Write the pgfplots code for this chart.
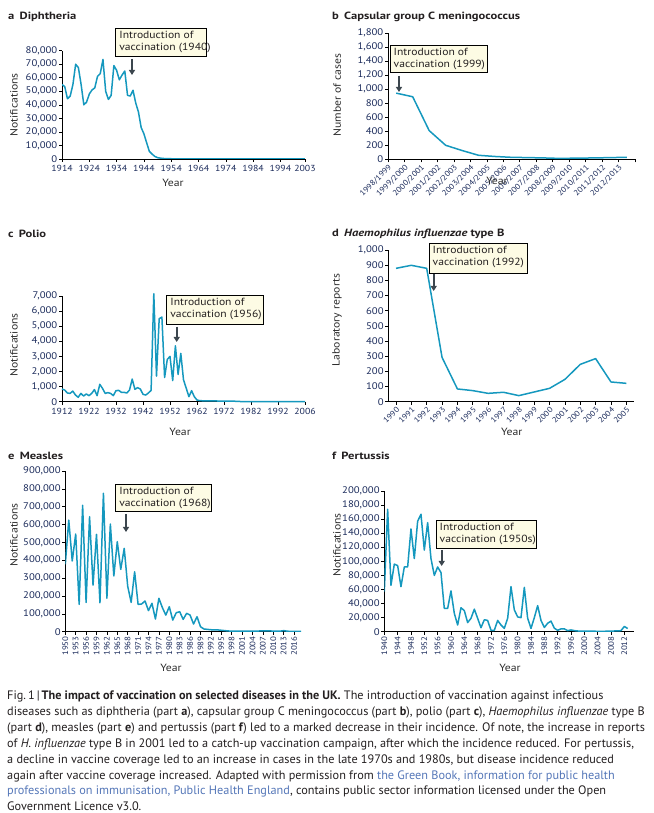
\documentclass[border=0pt]{standalone}
\usepackage{pgfplots}
\pgfplotsset{compat=1.18}
\usetikzlibrary{arrows.meta}
\usepackage{fontspec}
\setmainfont{PT Sans}
\newfontfamily\titlefont[FakeStretch=1.2]{PT Sans}
\newfontfamily\wfont[FakeStretch=1.12]{PT Sans}

\definecolor{curve}{HTML}{1598BE}
\definecolor{ticknavy}{HTML}{1B2B5B}
\definecolor{labeldark}{HTML}{2B2B2B}
\definecolor{boxfill}{HTML}{FDFBE4}
\definecolor{arrowgrey}{HTML}{3C464E}
\definecolor{linkblue}{HTML}{5577B8}
\definecolor{textdark}{HTML}{231F20}

\pgfplotsset{
  panel/.style={
    scale only axis,
    axis lines=left,
    axis line style={-, black, line width=0.6bp},
    tick align=outside,
    major tick length=3bp,
    tick style={black, line width=0.6bp},
    enlargelimits=false,
    scaled y ticks=false,
    scaled x ticks=false,
    /pgf/number format/fixed,
    /pgf/number format/assume math mode=true,
    /pgf/number format/1000 sep={,},
    yticklabel style={font=\wfont\fontsize{9.6}{11}\selectfont, text=ticknavy,
      inner sep=1.5pt},
    xticklabel style={font=\wfont\fontsize{8.8}{10}\selectfont, text=ticknavy,
      /pgf/number format/1000 sep={}},
    label style={font=\wfont\fontsize{10.5}{12}\selectfont, text=labeldark},
    ylabel style={anchor=center},
    xlabel style={anchor=center},
    every axis plot post/.append style={curve, line width=1.5bp, line join=round},
    no markers,
  },
  rot45/.style={xticklabel style={font=\wfont\fontsize{7.8}{9}\selectfont,
      rotate=45, anchor=north east, inner sep=1pt}},
  rot90/.style={xticklabel style={font=\wfont\fontsize{8}{9}\selectfont,
      rotate=90, anchor=east, inner sep=1.5pt}},
}

% annotation box: x1 y1 x2 y2 (pixel, top-left origin), text
\newcommand\annotbox[5]{%
  \draw[fill=boxfill, draw=black, line width=0.6bp] (#1,813-#2) rectangle (#3,813-#4);
  \node[anchor=north west, inner sep=0pt, align=left, text=textdark,
    font=\wfont\fontsize{10.4}{12.6}\selectfont] at (#1+3.5,813-#2-2.5) {#5};}
\newcommand\annotarrow[3]{%
  \draw[arrowgrey, line width=1.8bp, -{Triangle[length=5bp,width=6bp]}]
    (#1,813-#2) -- (#1,813-#3);}
\newcommand\paneltitle[3]{%
  \node[anchor=base west, inner sep=0pt, text=textdark,
    font=\titlefont\fontsize{10.5}{12}\selectfont\bfseries] at (#1,813-#2) {#3};}

\begin{document}
\begin{tikzpicture}[x=1bp,y=1bp]
\useasboundingbox (0,0) rectangle (654,813);

% ---------- a Diphtheria
\begin{axis}[panel, at={(62bp,654bp)}, anchor=south west,
  width=243bp, height=108.3bp,
  xmin=1914, xmax=2003, ymin=0, ymax=80000,
  xtick={1914,1924,1934,1944,1954,1964,1974,1984,1994,2003},
  ytick={0,10000,...,80000},
  ylabel={Notifications}, xlabel={Year},
  ylabel style={at={(axis description cs:-0.198,0.5)}},
  xlabel style={at={(axis description cs:0.457,-0.222)}},
]
\addplot coordinates {(1914,55000)(1915,53500)(1916,44500)(1917,46500)(1918,55000)
 (1919,70000)(1920,67500)(1921,55000)(1922,40000)(1923,42000)(1924,48000)(1925,51000)
 (1926,52500)(1927,61000)(1928,63000)(1929,73500)(1930,50000)(1931,44000)(1932,47000)
 (1933,69000)(1934,65500)(1935,58500)(1936,62000)(1937,65000)(1938,47000)(1939,46500)
 (1940,50800)(1941,41400)(1942,34700)(1943,23200)(1944,18600)(1945,12000)(1946,5600)
 (1947,3600)(1948,1900)(1949,960)(1950,660)(1951,380)(1952,300)(1953,200)(1955,150)
 (1960,60)(1970,30)(1985,20)(2003,20)};
\end{axis}

% ---------- b Meningococcus C
\begin{axis}[panel, rot45, at={(388bp,653.7bp)}, anchor=south west,
  width=247bp, height=126bp,
  xmin=0, xmax=15, ymin=0, ymax=1800,
  xtick={0,...,15},
  xticklabels={1998/1999,1999/2000,2000/2001,2001/2002,2002/2003,2003/2004,
    2004/2005,2005/2006,2006/2007,2007/2008,2008/2009,2009/2010,2010/2011,
    2011/2012,2012/2013,{}},
  ytick={0,200,...,1800},
  ylabel={Number of cases}, xlabel={Year},
  ylabel style={at={(axis description cs:-0.206,0.51)}},
  xlabel style={at={(axis description cs:0.441,-0.172)}},
]
\addplot coordinates {(0.5,945)(1.5,893)(2.5,410)(3.5,200)(4.5,125)(5.5,57)(6.5,40)
 (7.5,28)(8.5,24)(9.5,19)(10.5,12)(11.5,17)(12.5,19)(13.5,24)(14.5,28)};
\end{axis}

% ---------- c Polio
\begin{axis}[panel, at={(62bp,411.3bp)}, anchor=south west,
  width=243bp, height=105.7bp, clip=false,
  xmin=1912, xmax=2002, ymin=0, ymax=7000,
  xtick={1912,1922,1932,1942,1952,1962,1972,1982,1992,2002},
  xticklabels={1912,1922,1932,1942,1952,1962,1972,1982,1992,2006},
  ytick={0,1000,...,7000},
  ylabel={Notifications}, xlabel={Year},
  ylabel style={at={(axis description cs:-0.198,0.536)}},
  xlabel style={at={(axis description cs:0.486,-0.287)}},
]
\addplot coordinates {(1912,840)(1913,770)(1914,575)(1915,550)(1916,700)(1917,440)
 (1918,290)(1919,550)(1920,375)(1921,510)(1922,400)(1923,550)(1924,800)(1925,400)
 (1926,1150)(1927,880)(1928,550)(1929,600)(1930,550)(1931,400)(1932,730)(1933,750)
 (1934,620)(1935,620)(1936,575)(1937,770)(1938,1500)(1939,820)(1940,930)(1941,840)
 (1942,490)(1943,440)(1944,575)(1945,750)(1946,7150)(1947,1700)(1948,5500)(1949,5600)
 (1950,1600)(1951,2800)(1952,3000)(1953,1400)(1954,3700)(1955,1800)(1956,3200)
 (1957,1450)(1958,900)(1959,330)(1960,730)(1961,330)(1962,110)(1963,70)(1964,60)
 (1966,50)(1970,45)(1975,45)(1976,30)(1978,12)(2002,10)};
\end{axis}

% ---------- d Haemophilus influenzae type B
\begin{axis}[panel, rot45, at={(388.3bp,411.3bp)}, anchor=south west,
  width=245.7bp, height=151.7bp,
  xmin=1989.5, xmax=2005.5, ymin=0, ymax=1000,
  xtick={1990,...,2005},
  ytick={0,100,...,1000},
  ylabel={Laboratory reports}, xlabel={Year},
  ylabel style={at={(axis description cs:-0.209,0.539)}},
  xlabel style={at={(axis description cs:0.502,-0.2)}},
]
\addplot coordinates {(1990,879)(1991,899)(1992,879)(1993,292)(1994,84)(1995,73)
 (1996,55)(1997,62)(1998,40)(1999,64)(2000,88)(2001,147)(2002,246)(2003,284)
 (2004,130)(2005,121)};
\end{axis}

% ---------- e Measles
\begin{axis}[panel, rot90, at={(65.3bp,181.3bp)}, anchor=south west,
  width=235.7bp, height=160.7bp,
  xmin=1950, xmax=2018, ymin=0, ymax=900000,
  xtick={1950,1953,...,2016},
  ytick={0,100000,...,900000},
  ylabel={Notifications}, xlabel={Year},
  ylabel style={at={(axis description cs:-0.218,0.602)}},
  xlabel style={at={(axis description cs:0.448,-0.226)}},
]
\addplot coordinates {(1950,377000)(1951,625000)(1952,396000)(1953,547000)
 (1954,153000)(1955,708000)(1956,164000)(1957,644000)(1958,261000)(1959,545000)
 (1960,162000)(1961,775000)(1962,187000)(1963,603000)(1964,312000)(1965,504000)
 (1966,349000)(1967,467000)(1968,255000)(1969,164000)(1970,336000)(1971,153000)
 (1972,155000)(1973,172000)(1974,118000)(1975,159000)(1976,71000)(1977,187000)
 (1978,135000)(1979,93000)(1980,140000)(1981,65000)(1982,106000)(1983,112000)
 (1984,69000)(1985,103000)(1986,93000)(1987,43000)(1988,84000)(1989,28000)
 (1990,15000)(1991,13000)(1992,11000)(1993,10000)(1994,10000)(1995,8000)(1996,6000)
 (1997,4000)(1998,3500)(1999,2500)(2000,2500)(2001,2500)(2002,3000)(2003,2500)
 (2004,2500)(2005,2500)(2006,4000)(2007,4000)(2008,5000)(2009,5000)(2010,2500)
 (2011,2500)(2012,3000)(2013,6000)(2014,3000)(2015,1500)(2016,2000)(2018,2000)};
\end{axis}

% ---------- f Pertussis
\begin{axis}[panel, rot90, at={(384.3bp,181.3bp)}, anchor=south west,
  width=249.7bp, height=140.7bp,
  xmin=1940, xmax=2014.9, ymin=0, ymax=200000,
  xtick={1940,1944,...,2012},
  ytick={0,20000,...,200000},
  ylabel={Notifications}, xlabel={Year},
  ylabel style={at={(axis description cs:-0.19,0.616)}},
  xlabel style={at={(axis description cs:0.503,-0.258)}},
]
\addplot coordinates {(1940,57000)(1941,174000)(1942,66000)(1943,96000)(1944,94000)
 (1945,64000)(1946,92000)(1947,92000)(1948,146000)(1949,104000)(1950,157000)
 (1951,167000)(1952,116000)(1953,155000)(1954,104000)(1955,80000)(1956,92000)
 (1957,84000)(1958,33000)(1959,33000)(1960,58000)(1961,26000)(1962,9500)(1963,34000)
 (1964,30000)(1965,13000)(1966,19000)(1967,32000)(1968,19000)(1969,5700)(1970,17000)
 (1971,16000)(1972,2000)(1973,2000)(1974,16000)(1975,9500)(1976,4700)(1977,19000)
 (1978,64000)(1979,31000)(1980,21000)(1981,20000)(1982,63000)(1983,19000)(1984,4700)
 (1985,20000)(1986,37000)(1987,16000)(1988,6000)(1989,12000)(1990,15000)(1991,5000)
 (1992,2000)(1993,4000)(1994,4000)(1995,1500)(1996,2500)(1997,1500)(1998,1000)
 (1999,800)(2000,800)(2002,700)(2004,600)(2006,600)(2008,800)(2009,1000)(2010,1000)
 (2011,1500)(2012,7500)(2013,4500)};
\end{axis}

% ---------- panel titles
\paneltitle{8}{19.5}{a\enspace Diphtheria}
\paneltitle{332}{19.5}{b\enspace Capsular group C meningococcus}
\paneltitle{8}{238}{c\enspace Polio}
\paneltitle{332}{237}{d\enspace\textit{Haemophilus influenzae} type B}
\paneltitle{8}{460}{e\enspace Measles}
\paneltitle{332}{460}{f\enspace Pertussis}

% ---------- annotations
\annotbox{115.7}{28.3}{206.7}{56.7}{Introduction of\\vaccination (1940)}
\annotarrow{132}{59}{75}
\annotbox{390}{45}{487}{72.7}{Introduction of\\vaccination (1999)}
\annotarrow{399}{76}{92}
\annotbox{166.7}{295}{263.3}{324}{Introduction of\\vaccination (1956)}
\annotarrow{176.7}{326.7}{342}
\annotbox{429}{243}{527}{273}{Introduction of\\vaccination (1992)}
\annotarrow{433.7}{274}{291}
\annotbox{115.7}{484}{211.7}{511.7}{Introduction of\\vaccination (1968)}
\annotarrow{126}{514}{532}
\annotbox{436}{520}{536.7}{548.3}{Introduction of\\vaccination (1950s)}
\annotarrow{441.7}{550}{566}

% ---------- caption
\node[anchor=north west, inner sep=0pt, align=left, text=textdark,
  font=\fontsize{12.3}{15.9}\selectfont] at (7,813-691) {%
Fig.\,1\,|\,\textbf{The impact of vaccination on selected diseases in the UK.} The introduction of vaccination against infectious\\
diseases such as diphtheria (part \textbf{a}), capsular group C meningococcus (part \textbf{b}), polio (part \textbf{c}), \textit{Haemophilus influenzae} type B\\
(part \textbf{d}), measles (part \textbf{e}) and pertussis (part \textbf{f}) led to a marked decrease in their incidence. Of note, the increase in reports\\
of \textit{H.~influenzae} type B in 2001 led to a catch-up vaccination campaign, after which the incidence reduced. For pertussis,\\
a decline in vaccine coverage led to an increase in cases in the late 1970s and 1980s, but disease incidence reduced\\
again after vaccine coverage increased. Adapted with permission from {\color{linkblue}the Green Book, information for public health}\\
{\color{linkblue}professionals on immunisation, Public Health England}, contains public sector information licensed under the Open\\
Government Licence v3.0.};
\end{tikzpicture}
\end{document}
